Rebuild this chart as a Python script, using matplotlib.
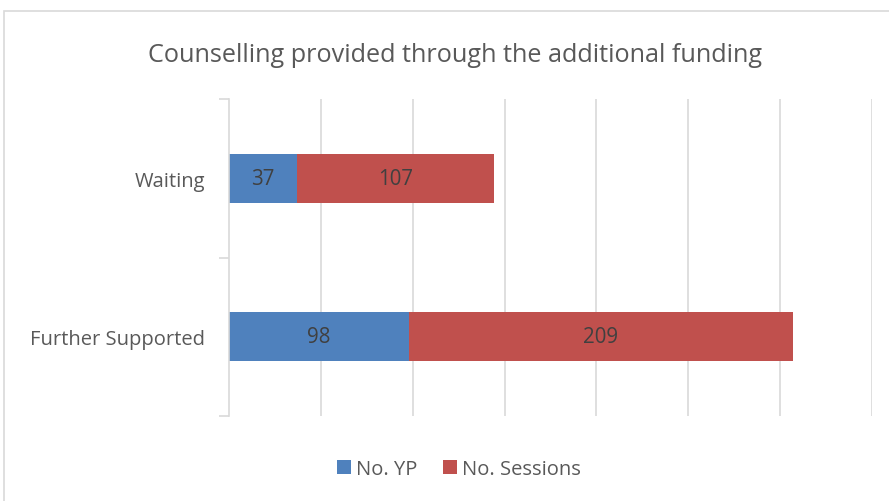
import matplotlib
matplotlib.use("Agg")
import matplotlib.pyplot as plt
from matplotlib.patches import Rectangle
import numpy as np

categories = ["Further Supported", "Waiting"]
no_yp = [98, 37]
no_sessions = [209, 107]
series_names = ["No. YP", "No. Sessions"]
title = "Counselling provided through the additional funding"

plt.rcParams['font.family'] = ['Open Sans', 'DejaVu Sans']

fig = plt.figure(figsize=(8.89, 5.02), dpi=100)
fig.patch.set_facecolor("white")
fig.patches.append(Rectangle((4/889, -0.05), 1.0, 1 - 12/502 + 0.05, transform=fig.transFigure,
                             fill=False, edgecolor="#d9d9d9", linewidth=1.2))

ax = fig.add_axes([229/889, 1 - 417/502, (872 - 229)/889, (417 - 100)/502])
y = np.arange(len(categories))
blue = "#4f81bd"
red = "#c0504d"
h = 0.31
b1 = ax.barh(y, no_yp, height=h, color=blue, label=series_names[0])
b2 = ax.barh(y, no_sessions, left=no_yp, height=h, color=red, label=series_names[1])
for bars, vals, lefts in [(b1, no_yp, [0, 0]), (b2, no_sessions, no_yp)]:
    for yi, v, l in zip(y, vals, lefts):
        ax.text(l + v / 2, yi, str(v), ha="center", va="center", fontsize=14.8, color="#404040")

ax.set_xlim(0, 350)
ax.set_ylim(-0.5, 1.5)
ax.set_xticks(np.arange(50, 351, 50))
ax.tick_params(axis="x", length=0, labelbottom=False)
ax.grid(axis="x", color="#d9d9d9", linewidth=1.2)
ax.set_axisbelow(True)
for s in ["top", "right", "bottom"]:
    ax.spines[s].set_visible(False)
ax.spines["left"].set_color("#d9d9d9")
ax.spines["left"].set_linewidth(1.2)
ax.set_yticks([-0.5, 0.5, 1.5], minor=False)
ax.set_yticklabels([])
ax.tick_params(axis="y", which="major", length=7, color="#d9d9d9", width=1.2)
ax.set_yticks(y, minor=True)
ax.set_yticklabels(categories, minor=True, fontsize=14.5, color="#595959")
ax.tick_params(axis="y", which="minor", length=0, pad=17)

fig.text(455/889, 1 - 55/502, title, ha="center", va="center", fontsize=18.2, color="#595959")

leg = fig.legend(handles=[b1, b2], labels=series_names, loc="center", bbox_to_anchor=(459/889, 1 - 470/502),
                 ncol=2, frameon=False, fontsize=14.5, handlelength=0.72, handleheight=0.72,
                 handletextpad=0.25, columnspacing=1.25, labelcolor="#595959")

fig.savefig("out.png", dpi=100)
